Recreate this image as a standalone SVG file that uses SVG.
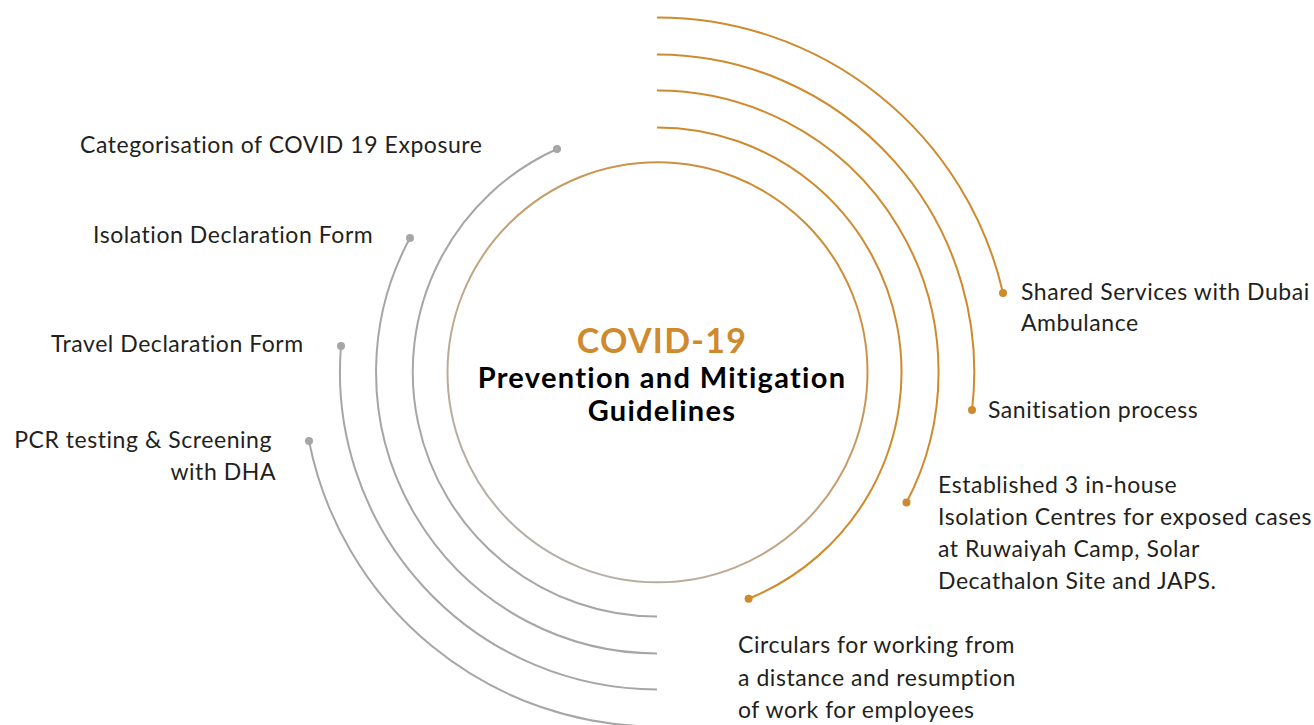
<svg xmlns="http://www.w3.org/2000/svg" width="1314" height="725" viewBox="0 0 1314 725">
<defs>
<linearGradient id="ring" x1="0.85" y1="0.1" x2="0.15" y2="0.9">
<stop offset="0" stop-color="#cf8a2e"/>
<stop offset="0.5" stop-color="#c4a27a"/>
<stop offset="1" stop-color="#b4b0ab"/>
</linearGradient>
<style>
.lbl{font-family:Lato,"Liberation Sans",sans-serif;font-size:23px;letter-spacing:0.55px;fill:#231f20}
.or{fill:none;stroke:#cf8a2e;stroke-width:2}
.gr{fill:none;stroke:#a6a6a6;stroke-width:2}
.dor{fill:#cf8a2e}
.dgr{fill:#a6a6a6}
.t1{font-family:Lato,"Liberation Sans",sans-serif;font-weight:700;font-size:34px;letter-spacing:1.3px;fill:#cf8a2e}
.t2{font-family:Lato,"Liberation Sans",sans-serif;font-weight:700;font-size:29px;letter-spacing:1.3px;fill:#000}
</style>
</defs>
<rect width="1314" height="725" fill="#fff"/>
<g id="center">
<circle cx="657.5" cy="372.3" r="210" fill="none" stroke="url(#ring)" stroke-width="2"/>
<text class="t1" x="662" y="353" text-anchor="middle">COVID-19</text>
<text class="t2" x="662" y="388" text-anchor="middle">Prevention and Mitigation</text>
<text class="t2" x="662" y="421" text-anchor="middle">Guidelines</text>
</g>
<g id="connectors">
<path class="or" d="M657 17.5 A354.5 354.5 0 0 1 1003 293"/>
<path class="or" d="M657 54.5 A317.5 317.5 0 0 1 972 410"/>
<path class="or" d="M657 90.5 A281.5 281.5 0 0 1 906.5 502.5"/>
<path class="or" d="M657 127.5 A244.5 244.5 0 0 1 748.6 598.7"/>
<path class="gr" d="M309 441 A354.5 354.5 0 0 0 657 726.5"/>
<path class="gr" d="M341 346 A317.5 317.5 0 0 0 657 689.5"/>
<path class="gr" d="M410 238 A281.5 281.5 0 0 0 657 653.5"/>
<path class="gr" d="M557 149 A244.5 244.5 0 0 0 657 616.5"/>
</g>
<g id="n-shared">
<circle class="dor" cx="1003" cy="293" r="4"/>
<text class="lbl" x="1021" y="300">Shared Services with Dubai</text>
<text class="lbl" x="1021" y="331">Ambulance</text>
</g>
<g id="n-sanitisation">
<circle class="dor" cx="972" cy="410" r="4"/>
<text class="lbl" x="988" y="418">Sanitisation process</text>
</g>
<g id="n-isolation-centres">
<circle class="dor" cx="906.5" cy="502.5" r="4"/>
<text class="lbl" x="938" y="493">Established 3 in-house</text>
<text class="lbl" x="938" y="525">Isolation Centres for exposed cases</text>
<text class="lbl" x="938" y="557">at Ruwaiyah Camp, Solar</text>
<text class="lbl" x="938" y="589">Decathalon Site and JAPS.</text>
</g>
<g id="n-circulars">
<circle class="dor" cx="748.6" cy="598.7" r="4"/>
<text class="lbl" x="738" y="653">Circulars for working from</text>
<text class="lbl" x="738" y="686">a distance and resumption</text>
<text class="lbl" x="738" y="718">of work for employees</text>
</g>
<g id="n-categorisation">
<circle class="dgr" cx="557" cy="149" r="4"/>
<text class="lbl" x="80" y="153">Categorisation of COVID 19 Exposure</text>
</g>
<g id="n-isolation-form">
<circle class="dgr" cx="410" cy="238" r="4"/>
<text class="lbl" x="93" y="243">Isolation Declaration Form</text>
</g>
<g id="n-travel-form">
<circle class="dgr" cx="341" cy="346" r="4"/>
<text class="lbl" x="51" y="352">Travel Declaration Form</text>
</g>
<g id="n-pcr">
<circle class="dgr" cx="309" cy="441" r="4"/>
<text class="lbl" x="272" y="448" text-anchor="end">PCR testing &amp; Screening</text>
<text class="lbl" x="276" y="480" text-anchor="end">with DHA</text>
</g>
</svg>
